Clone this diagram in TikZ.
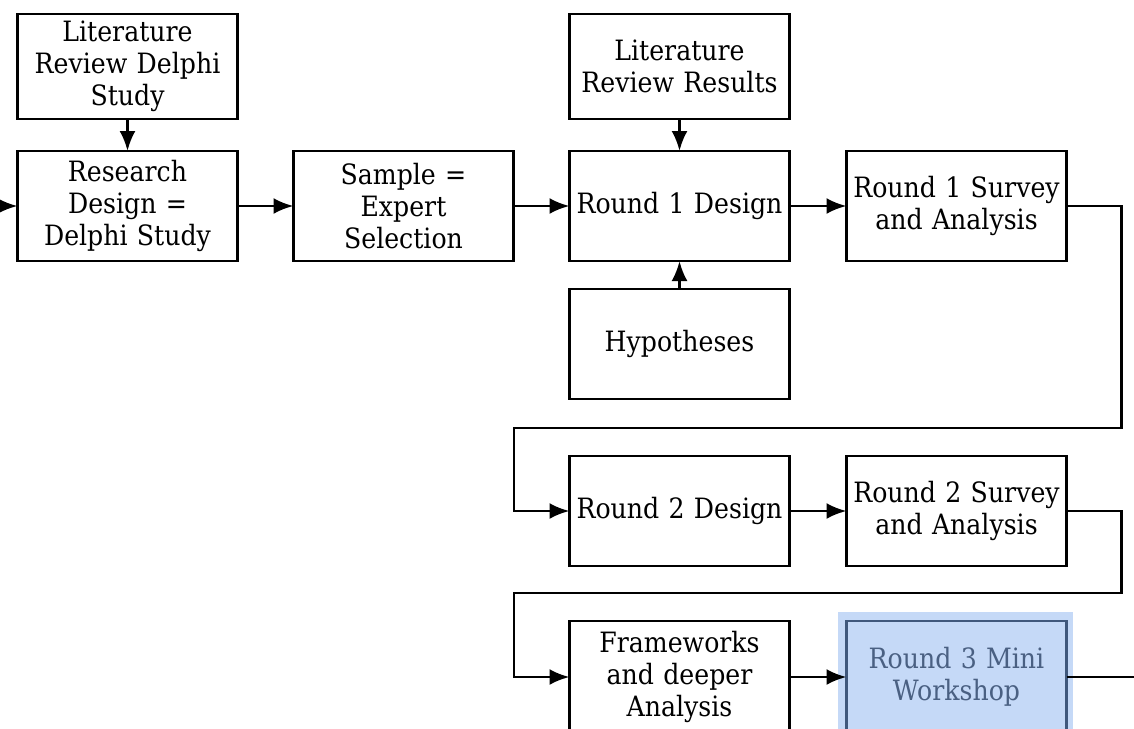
\documentclass[tikz,border=0pt]{standalone}
\usepackage{fontspec}
\setmainfont[FakeStretch=0.9]{DejaVu Serif}
\usepackage{xcolor}
\usetikzlibrary{arrows.meta,positioning}

\definecolor{hlblue}{RGB}{197,217,247}
\definecolor{hlline}{RGB}{64,88,124}
\definecolor{hltext}{RGB}{74,96,130}

\tikzset{
  block/.style={draw=black,line width=1.4pt,text width=106pt,inner xsep=2pt,inner ysep=2pt,
    outer sep=0pt,minimum height=55pt,align=center,font=\fontsize{14}{16}\selectfont},
  short/.style={minimum height=52.5pt},
  arr/.style={-{Latex[length=10pt,width=8pt]},line width=1.4pt},
}

\begin{document}
\begin{tikzpicture}[x=0.5pt,y=-0.5pt]
\useasboundingbox (0,0) rectangle (1134,728);
\clip (0,0) rectangle (1134,728);

% highlight behind round 3
\fill[hlblue] (838,612) rectangle (1073,740);

\node[block] (rd) at (127.5,206) {Research\\Design =\\Delphi Study};
\node[block,short,above=16pt of rd] (lrd) {Literature\\Review Delphi\\Study};
\node[block,right=28pt of rd] (sample) {Sample =\\Expert\\Selection};
\node[block,right=28pt of sample] (r1d) {Round 1 Design};
\node[block,short,above=16pt of r1d] (lrr) {Literature\\Review Results};
\node[block,below=14pt of r1d] (hyp) {Hypotheses};
\node[block,right=28.5pt of r1d] (r1s) {Round 1 Survey\\and Analysis};
\node[block,below=28.5pt of hyp] (r2d) {Round 2 Design};
\node[block,right=28.5pt of r2d] (r2s) {Round 2 Survey\\and Analysis};
\node[block,minimum height=56pt,below=27.5pt of r2d] (fw) {Frameworks\\and deeper\\Analysis};
\node[block,minimum height=56pt,right=28.5pt of fw,draw=hlline,fill=hlblue,text=hltext] (r3) {Round 3 Mini\\Workshop};

\coordinate (in0) at (-30,206);

\draw[arr] (in0) -- (rd);
\draw[arr] (lrd) -- (rd);
\draw[arr] (rd) -- (sample);
\draw[arr] (sample) -- (r1d);
\draw[arr] (lrr) -- (r1d);
\draw[arr] (hyp) -- (r1d);
\draw[arr] (r1d) -- (r1s);
\draw[arr] (r1s.east) -- ++(55,0) |- (514,428) |- (r2d.west);
\draw[arr] (r2d) -- (r2s);
\draw[arr] (r2s.east) -- ++(55,0) |- (514,593) |- (fw.west);
\draw[arr] (fw) -- (r3);
\draw[line width=1.4pt] (r3.east) -- ++(90,0) coordinate (out3);

\end{tikzpicture}
\end{document}
